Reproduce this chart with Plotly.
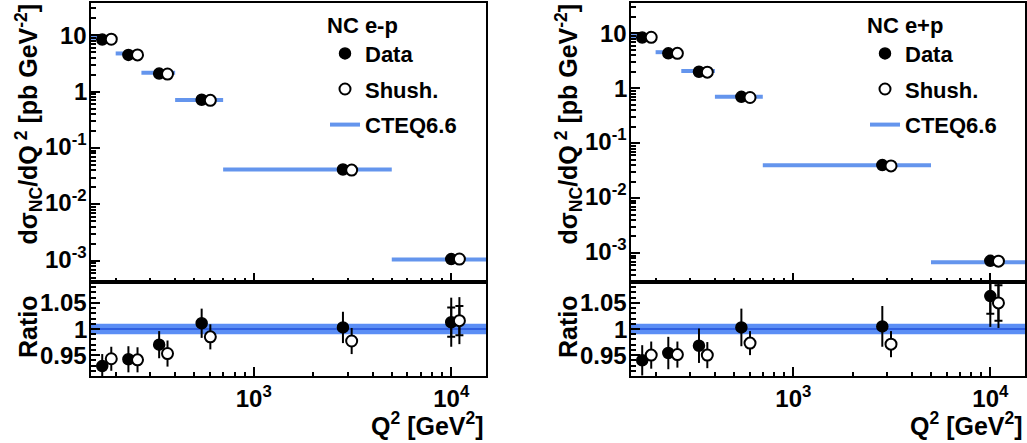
import numpy as np
import plotly.graph_objects as go

# ---------------- data ----------------
bin_lo = [140, 200, 270, 400, 700, 5000]
bin_hi = [200, 270, 400, 700, 5000, 20000]
x_data = [171, 232, 332, 545, 2830, 10000]
x_shush = [190, 258, 366, 603, 3133, 11000]

# e-p (left)
em_cteq = [9.0, 4.75, 2.15, 0.71, 0.0416, 1.06e-3]
em_data = [8.36, 4.47, 2.09, 0.718, 0.0417, 1.074e-3]
em_shush = [8.49, 4.47, 2.05, 0.70, 0.0406, 1.077e-3]
em_r_data = [0.929, 0.942, 0.970, 1.011, 1.003, 1.013]
em_r_data_tot = [0.023, 0.025, 0.026, 0.028, 0.030, 0.047]
em_r_data_stat = [0, 0, 0, 0, 0, 0.028]
em_r_shush = [0.943, 0.941, 0.953, 0.985, 0.977, 1.016]
em_r_shush_tot = [0.023, 0.024, 0.025, 0.024, 0.025, 0.045]
em_r_shush_stat = [0, 0, 0, 0, 0, 0.028]

# e+p (right)
ep_cteq = [8.94, 4.55, 2.07, 0.70, 0.0398, 6.8e-4]
ep_data = [8.4, 4.34, 2.0, 0.70, 0.040, 7.2e-4]
ep_shush = [8.5, 4.33, 1.97, 0.68, 0.0386, 7.1e-4]
ep_r_data = [0.940, 0.954, 0.968, 1.003, 1.005, 1.063]
ep_r_data_tot = [0.029, 0.031, 0.033, 0.036, 0.039, 0.059]
ep_r_data_stat = [0, 0, 0, 0, 0, 0.034]
ep_r_shush = [0.950, 0.951, 0.950, 0.973, 0.971, 1.050]
ep_r_shush_tot = [0.026, 0.025, 0.025, 0.023, 0.025, 0.048]
ep_r_shush_stat = [0, 0, 0, 0, 0, 0.034]

band_lo, band_hi, band_center = 0.99, 1.01, 1.0

y_tickvals = [1e-3, 1e-2, 1e-1, 1, 10]
y_ticktext = ["10<sup>-3</sup>", "10<sup>-2</sup>", "10<sup>-1</sup>", "1", "10"]
x_tickvals = [1000, 10000]
x_ticktext = ["10<sup>3</sup>", "10<sup>4</sup>"]
r_tickvals = [0.95, 1.0, 1.05]
r_ticktext = ["0.95", "1", "1.05"]

# ---------------- layout geometry ----------------
W, H = 1027, 443
FONT = "Liberation Sans, Arial, Helvetica, sans-serif"
CTEQ_COL = "#6495ED"
BAND_COL = "#5b8ef5"
BAND_LINE = "#3060e0"
MSIZE = 11

def px_x(p):
    return p / W

def px_y(p):
    return 1 - p / H

left_dom = [px_x(91), px_x(486)]
right_dom = [px_x(631), px_x(1025)]
top_dom = [px_y(282), px_y(3)]
bot_dom = [px_y(376), px_y(282)]

fig = go.Figure()

minor_x = [m * 10 ** e for e in (2, 3, 4) for m in range(2, 10)]
minor_y = [m * 10 ** e for e in (-4, -3, -2, -1, 0, 1) for m in range(2, 10)]


def seg_xy(lo, hi, vals):
    xs, ys = [], []
    for a, b, v in zip(lo, hi, vals):
        xs += [a, b, None]
        ys += [v, v, None]
    return xs, ys


def add_panel(ix, cteq, data, shush, rd, rd_tot, rd_stat, rs, rs_tot, rs_stat, legend):
    xt = "x" if ix == 0 else "x3"
    yt = "y" if ix == 0 else "y3"
    xb = "x2" if ix == 0 else "x4"
    yb = "y2" if ix == 0 else "y4"
    xs, ys = seg_xy(bin_lo, bin_hi, cteq)
    fig.add_trace(go.Scatter(x=xs, y=ys, mode="lines", line=dict(color=CTEQ_COL, width=4),
                             name="CTEQ6.6", xaxis=xt, yaxis=yt, legend=legend, legendrank=3,
                             legendgroup=f"c{ix}"))
    fig.add_trace(go.Scatter(x=x_data, y=data, mode="markers", name="Data",
                             marker=dict(symbol="circle", size=MSIZE, color="black",
                                         line=dict(color="black", width=1.5)),
                             xaxis=xt, yaxis=yt, legend=legend, legendrank=1, legendgroup=f"d{ix}"))
    fig.add_trace(go.Scatter(x=x_shush, y=shush, mode="markers", name="Shush.",
                             marker=dict(symbol="circle", size=MSIZE, color="white",
                                         line=dict(color="black", width=2)),
                             xaxis=xt, yaxis=yt, legend=legend, legendrank=2, legendgroup=f"s{ix}"))
    # ratio panel
    for xv, yv, tot, stat, fill in ((x_data, rd, rd_tot, rd_stat, "black"),
                                    (x_shush, rs, rs_tot, rs_stat, "white")):
        fig.add_trace(go.Scatter(x=xv, y=yv, mode="markers", showlegend=False,
                                 marker=dict(size=1, color="rgba(0,0,0,0)"),
                                 error_y=dict(type="data", array=tot, visible=True,
                                              thickness=2, width=0, color="black"),
                                 xaxis=xb, yaxis=yb))
        fig.add_trace(go.Scatter(x=xv, y=yv, mode="markers", showlegend=False,
                                 marker=dict(size=1, color="rgba(0,0,0,0)"),
                                 error_y=dict(type="data", array=stat, visible=True,
                                              thickness=2, width=4, color="black"),
                                 xaxis=xb, yaxis=yb))
        fig.add_trace(go.Scatter(x=xv, y=yv, mode="markers", showlegend=False,
                                 marker=dict(symbol="circle", size=MSIZE, color=fill,
                                             line=dict(color="black", width=2 if fill == "white" else 1.5)),
                                 xaxis=xb, yaxis=yb))
    # CTEQ band in ratio panel
    fig.add_shape(type="rect", xref=f"{xb} domain", yref=yb, x0=0, x1=1,
                  y0=band_lo, y1=band_hi, fillcolor=BAND_COL, line=dict(width=0), layer="below")
    fig.add_shape(type="line", xref=f"{xb} domain", yref=yb, x0=0, x1=1,
                  y0=band_center, y1=band_center, line=dict(color=BAND_LINE, width=2), layer="below")


add_panel(0, em_cteq, em_data, em_shush, em_r_data, em_r_data_tot, em_r_data_stat,
          em_r_shush, em_r_shush_tot, em_r_shush_stat, "legend")
add_panel(1, ep_cteq, ep_data, ep_shush, ep_r_data, ep_r_data_tot, ep_r_data_stat,
          ep_r_shush, ep_r_shush_tot, ep_r_shush_stat, "legend2")

tickfont = dict(family=FONT, size=24, color="black", weight="bold")
common = dict(showline=True, linecolor="black", linewidth=2, mirror=True, ticks="inside",
              tickcolor="black", tickwidth=1.5, showgrid=False, zeroline=False, tickfont=tickfont,
              automargin=False)

xr = [np.log10(150), np.log10(15000)]
for name, dom, anchor, labels in (("xaxis", left_dom, "y", False), ("xaxis2", left_dom, "y2", True),
                                  ("xaxis3", right_dom, "y3", False), ("xaxis4", right_dom, "y4", True)):
    fig.update_layout({name: dict(common, type="log", range=xr, domain=dom, anchor=anchor,
                                  tickmode="array", tickvals=x_tickvals, ticktext=x_ticktext,
                                  showticklabels=labels, ticklen=9,
                                  minor=dict(tickmode="array", tickvals=minor_x, ticks="inside",
                                             ticklen=4.5, tickwidth=1.5, tickcolor="black"))})

for name, dom, anchor, rng in (("yaxis", top_dom, "x", [-3.375, 1.571]),
                               ("yaxis3", top_dom, "x3", [-3.528, 1.554])):
    fig.update_layout({name: dict(common, type="log", range=rng, domain=dom, anchor=anchor,
                                  tickmode="array", tickvals=y_tickvals, showticklabels=False,
                                  ticklen=9,
                                  minor=dict(tickmode="array", tickvals=minor_y, ticks="inside",
                                             ticklen=4.5, tickwidth=1.5, tickcolor="black"))})

for name, dom, anchor in (("yaxis2", bot_dom, "x2"), ("yaxis4", bot_dom, "x4")):
    fig.update_layout({name: dict(common, range=[0.91, 1.09], domain=dom, anchor=anchor,
                                  tickmode="array", tickvals=r_tickvals, showticklabels=False,
                                  ticklen=9,
                                  minor=dict(dtick=0.01, tick0=0.9, ticks="inside",
                                             ticklen=4.5, tickwidth=1.5, tickcolor="black"))})

# y tick labels, right-aligned against each y axis, placed through the axis scales
for lab_px, yt, yb in ((88, "y", "y2"), (628, "y3", "y4")):
    for v, t in zip(y_tickvals, y_ticktext):
        fig.add_annotation(text=t, x=px_x(lab_px), xref="paper", y=np.log10(v), yref=yt,
                           xanchor="right", yanchor="middle", showarrow=False, font=tickfont,
                           yshift=3 if "sup" in t else 0, borderpad=0)
    for v, t in zip(r_tickvals, r_ticktext):
        fig.add_annotation(text=t, x=px_x(lab_px), xref="paper", y=v, yref=yb,
                           xanchor="right", yanchor="middle", showarrow=False, font=tickfont,
                           borderpad=0)

legfont = dict(family=FONT, size=22, color="black", weight="bold")
for name, x0, title in (("legend", 325, "NC e-p"), ("legend2", 865, "NC e+p")):
    fig.update_layout({name: dict(x=px_x(x0), y=px_y(4), xanchor="left", yanchor="top",
                                  bgcolor="rgba(0,0,0,0)", font=legfont, itemwidth=30,
                                  title=dict(text=title, font=legfont), tracegroupgap=4)})

ann_font = dict(family=FONT, size=25, color="black", weight="bold")
ytitle = "dσ<sub>NC</sub>/dQ<sup> 2</sup> [pb GeV<sup>-2</sup>]"
xtitle = "Q<sup>2</sup> [GeV<sup>2</sup>]"
for xl, xr_px in ((28, 486), (568, 1025)):
    fig.add_annotation(text=ytitle, textangle=-90, x=px_x(xl), y=px_y(2), xref="paper", yref="paper",
                       xanchor="center", yanchor="top", showarrow=False, font=ann_font)
    fig.add_annotation(text="Ratio", textangle=-90, x=px_x(xl), y=px_y(327), xref="paper", yref="paper",
                       xanchor="center", yanchor="middle", showarrow=False, font=ann_font)
    fig.add_annotation(text=xtitle, x=px_x(xr_px), y=px_y(424), xref="paper", yref="paper",
                       xanchor="right", yanchor="middle", showarrow=False, font=ann_font)

fig.update_layout(width=W, height=H, autosize=False, margin=dict(l=0, r=0, t=0, b=0),
                  paper_bgcolor="white", plot_bgcolor="white", showlegend=True)

fig.write_html("out.html", config={"displayModeBar": False},
               post_script="document.body.style.margin='0px';")
